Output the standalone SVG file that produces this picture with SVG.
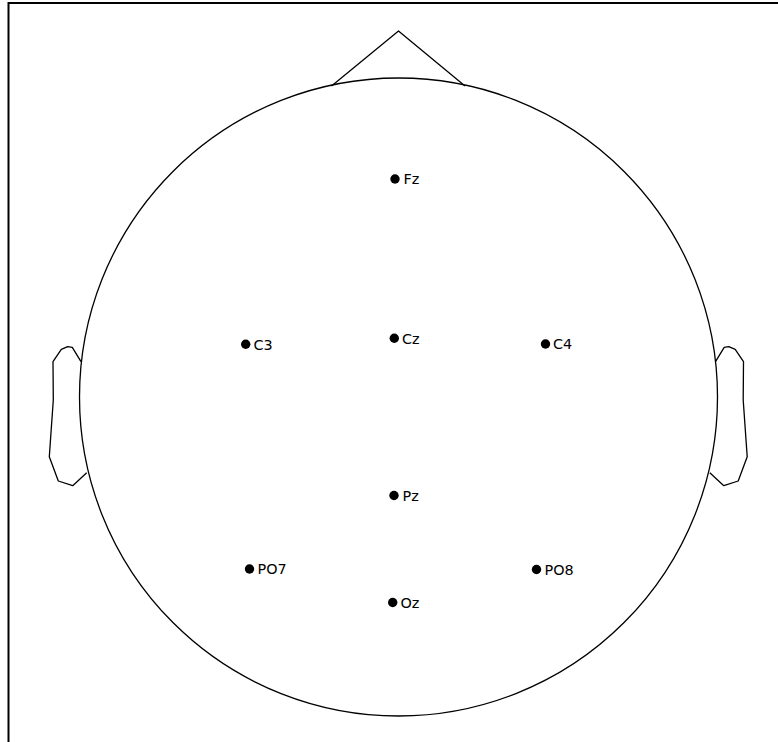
<svg xmlns="http://www.w3.org/2000/svg" width="778" height="742" viewBox="0 0 778 742">
<style>
.frame{stroke:#000;stroke-width:2;fill:none}
.outline{stroke:#000;stroke-width:1.3;fill:none;stroke-linejoin:round}
.dot{fill:#000}
.lbl{font-family:"DejaVu Sans",sans-serif;font-size:14.4px;fill:#000}
</style>
<rect width="778" height="742" fill="#fff"/>
<g id="frame">
<path class="frame" d="M8.5,742 V3 H778"/>
</g>
<g id="head">
<circle class="outline" cx="398.5" cy="397" r="319"/>
<polyline id="nose" class="outline" points="331.5,86 398.5,31 465,86"/>
<polyline id="ear-left" class="outline" points="81,361.7 72.3,347.3 67.7,346.7 61.3,349.3 53,361.7 53.3,400 49.3,456.7 58.3,481 72.7,485.7 86.7,472.7"/>
<polyline id="ear-right" class="outline" points="715.5,361.7 724.2,347.3 728.8,346.7 735.2,349.3 743.5,361.7 743.2,400 747.2,456.7 738.2,481 723.8,485.7 709.8,472.7"/>
</g>
<g id="Fz"><circle class="dot" cx="395" cy="179" r="4.7"/><text class="lbl" x="403.5" y="184.2">Fz</text></g>
<g id="C3"><circle class="dot" cx="245.7" cy="344.3" r="4.7"/><text class="lbl" x="253.5" y="349.5">C3</text></g>
<g id="Cz"><circle class="dot" cx="394.3" cy="338.3" r="4.7"/><text class="lbl" x="402" y="343.5">Cz</text></g>
<g id="C4"><circle class="dot" cx="545.5" cy="344" r="4.7"/><text class="lbl" x="553" y="349.2">C4</text></g>
<g id="Pz"><circle class="dot" cx="394" cy="495.5" r="4.7"/><text class="lbl" x="402.5" y="500.7">Pz</text></g>
<g id="PO7"><circle class="dot" cx="249.5" cy="569" r="4.7"/><text class="lbl" x="257.5" y="574.2">PO7</text></g>
<g id="PO8"><circle class="dot" cx="536.5" cy="569.5" r="4.7"/><text class="lbl" x="544.5" y="574.7">PO8</text></g>
<g id="Oz"><circle class="dot" cx="392.7" cy="602.5" r="4.7"/><text class="lbl" x="400.5" y="607.7">Oz</text></g>
<g id="connectors"></g>
</svg>
